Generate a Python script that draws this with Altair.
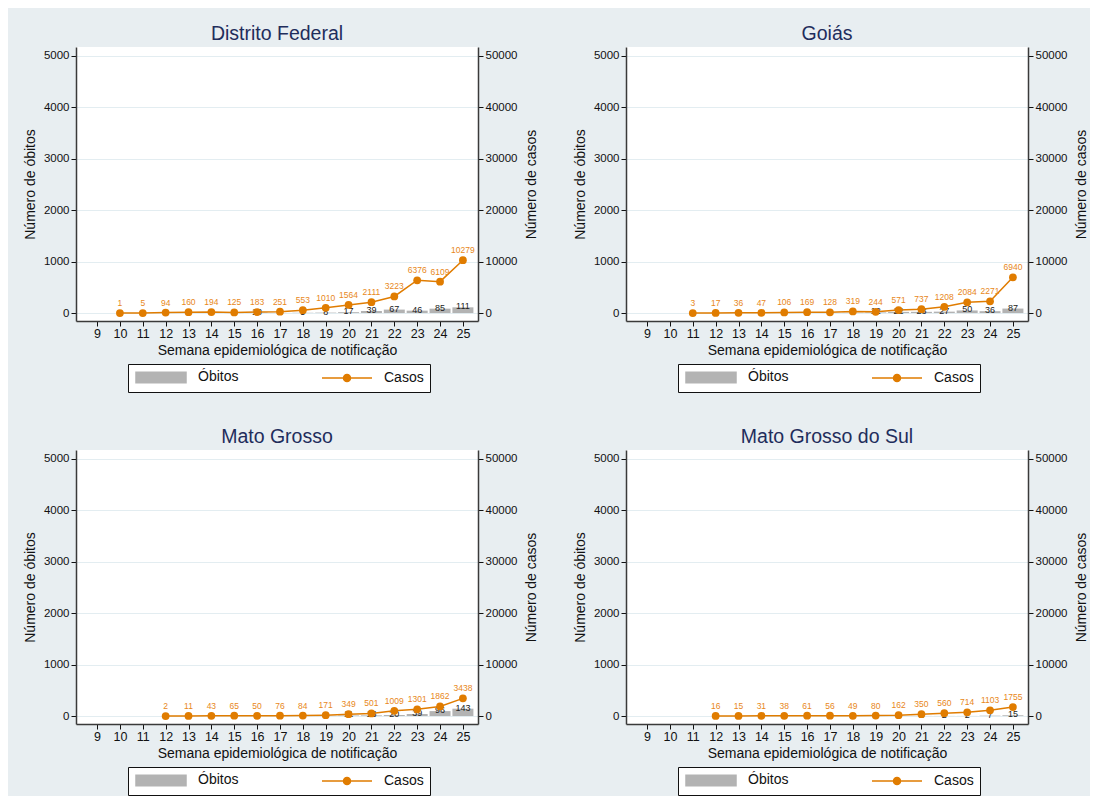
import altair as alt
import pandas as pd

# ---------------- data ----------------
ESTADOS = ["Distrito Federal", "Goiás", "Mato Grosso", "Mato Grosso do Sul"]

DF_SEM_CASOS = [10, 11, 12, 13, 14, 15, 16, 17, 18, 19, 20, 21, 22, 23, 24, 25]
DF_CASOS = [1, 5, 94, 160, 194, 125, 183, 251, 553, 1010, 1564, 2111, 3223, 6376, 6109, 10279]
DF_SEM_OBITOS = [16, 17, 18, 19, 20, 21, 22, 23, 24, 25]
DF_OBITOS = [10, 2, 5, 8, 17, 39, 67, 46, 85, 111]

GO_SEM_CASOS = [11, 12, 13, 14, 15, 16, 17, 18, 19, 20, 21, 22, 23, 24, 25]
GO_CASOS = [3, 17, 36, 47, 106, 169, 128, 319, 244, 571, 737, 1208, 2084, 2271, 6940]
GO_SEM_OBITOS = [18, 19, 20, 21, 22, 23, 24, 25]
GO_OBITOS = [6, 12, 22, 23, 27, 50, 36, 87]

MT_SEM_CASOS = [12, 13, 14, 15, 16, 17, 18, 19, 20, 21, 22, 23, 24, 25]
MT_CASOS = [2, 11, 43, 65, 50, 76, 84, 171, 349, 501, 1009, 1301, 1862, 3438]
MT_SEM_OBITOS = [19, 20, 21, 22, 23, 24, 25]
MT_OBITOS = [4, 11, 13, 20, 39, 96, 143]

MS_SEM_CASOS = [12, 13, 14, 15, 16, 17, 18, 19, 20, 21, 22, 23, 24, 25]
MS_CASOS = [16, 15, 31, 38, 61, 56, 49, 80, 162, 350, 560, 714, 1103, 1755]
MS_SEM_OBITOS = [21, 22, 23, 24, 25]
MS_OBITOS = [2, 2, 2, 7, 15]

SEMANAS_EIXO = [9, 10, 11, 12, 13, 14, 15, 16, 17, 18, 19, 20, 21, 22, 23, 24, 25]
TICKS_OBITOS = [0, 1000, 2000, 3000, 4000, 5000]
TICKS_CASOS = [0, 10000, 20000, 30000, 40000, 50000]
SERIES = ["Óbitos", "Casos"]

# ---------------- style ----------------
FONT = "Liberation Sans"
ORANGE = "#e07c00"
ORANGE_TXT = "#e8871a"
GRAY = "#b3b3b3"
BG = "#e8eef1"
GRID = "#e3edf1"
TITLE_COL = "#1f2d5c"
AXIS_COL = "#3a3a3a"

color_scale = alt.Scale(domain=SERIES, range=[GRAY, ORANGE])

RECT = "M-1,-1.05H9V1.05H-1Z"
LINEDOT = "M-1,0H9M3.3,0A0.7,0.7 0 1,1 4.7,0A0.7,0.7 0 1,1 3.3,0Z"

legend = alt.Legend(
    title=None, orient="none", legendX=52, legendY=317,
    direction="horizontal", columns=2,
    fillColor="white", strokeColor="#111", padding=6,
    symbolSize=100, symbolStrokeWidth=1.5,
    symbolType=alt.ExprRef(f"datum.value == 'Óbitos' ? '{RECT}' : '{LINEDOT}'"),
    labelFont=FONT, labelFontSize=14, labelColor="#111", labelOffset=50,
    labelBaseline="middle", columnPadding=80,
)


def panel(nome, sem_c, casos, sem_o, obitos):
    dc = pd.DataFrame({"semana": sem_c, "casos": casos, "serie": "Casos"})
    do = pd.DataFrame({"semana": sem_o, "obitos": obitos, "serie": "Óbitos"})

    x = alt.X(
        "semana:Q",
        scale=alt.Scale(domain=[8.08, 25.66], nice=False, zero=False, padding=0),
        axis=alt.Axis(
            values=SEMANAS_EIXO, format="d", title="Semana epidemiológica de notificação",
            labelFontSize=12.5, titleFontSize=14, titleFontWeight="normal",
            labelFont=FONT, titleFont=FONT, labelColor="#111", titleColor="#111",
            tickSize=5, domainColor=AXIS_COL, tickColor="#111", domainWidth=1.5,
            labelPadding=1, titlePadding=4, grid=False, labelFlush=False,
        ),
    )
    y_ob = alt.Y(
        "obitos:Q",
        scale=alt.Scale(domain=[-155, 5175], nice=False, padding=0),
        axis=alt.Axis(
            orient="left", values=TICKS_OBITOS, format="d", title="Número de óbitos",
            labelFontSize=11.5, titleFontSize=14, titleFontWeight="normal",
            labelFont=FONT, titleFont=FONT, labelColor="#111", titleColor="#111",
            tickSize=5, domainColor=AXIS_COL, tickColor="#111", domainWidth=1.5,
            labelPadding=2, titlePadding=6, grid=True, gridColor=GRID, gridWidth=1.2,
        ),
    )
    y_ca = alt.Y(
        "casos:Q",
        scale=alt.Scale(domain=[-1550, 51750], nice=False, padding=0),
        axis=alt.Axis(
            orient="right", values=TICKS_CASOS, format="d", title="Número de casos",
            titleAngle=270, titleBaseline="top",
            labelFontSize=11.5, titleFontSize=14, titleFontWeight="normal",
            labelFont=FONT, titleFont=FONT, labelColor="#111", titleColor="#111",
            tickSize=5, domainColor=AXIS_COL, tickColor="#111", domainWidth=1.5,
            labelPadding=2, titlePadding=8, grid=False,
        ),
    )
    cor = alt.Color("serie:N", scale=color_scale, legend=legend)

    bars = alt.Chart(do).mark_bar(size=21).encode(x=x, y=y_ob, color=cor)
    txt_o = alt.Chart(do).mark_text(
        font=FONT, fontSize=9, color="#222", baseline="middle", dy=-1
    ).encode(x=x, y=y_ob, text=alt.Text("obitos:Q", format="d"))
    left = alt.layer(bars, txt_o)

    line = alt.Chart(dc).mark_line(strokeWidth=1.5).encode(x=x, y=y_ca, color=cor)
    pts = alt.Chart(dc).mark_circle(size=60, opacity=1).encode(x=x, y=y_ca, color=cor)
    txt_c = alt.Chart(dc).mark_text(
        font=FONT, fontSize=8.5, color=ORANGE_TXT, baseline="bottom", dy=-5
    ).encode(x=x, y=y_ca, text=alt.Text("casos:Q", format="d"))
    right = alt.layer(line, pts, txt_c)

    return (
        alt.layer(left, right)
        .resolve_scale(y="independent")
        .properties(
            width=402, height=274,
            title=alt.TitleParams(
                text=nome, fontSize=19.5, font=FONT, fontWeight="normal",
                color=TITLE_COL, offset=3, anchor="middle",
            ),
        )
    )


p1 = panel(ESTADOS[0], DF_SEM_CASOS, DF_CASOS, DF_SEM_OBITOS, DF_OBITOS)
p2 = panel(ESTADOS[1], GO_SEM_CASOS, GO_CASOS, GO_SEM_OBITOS, GO_OBITOS)
p3 = panel(ESTADOS[2], MT_SEM_CASOS, MT_CASOS, MT_SEM_OBITOS, MT_OBITOS)
p4 = panel(ESTADOS[3], MS_SEM_CASOS, MS_CASOS, MS_SEM_OBITOS, MS_OBITOS)

chart = (
    alt.concat(p1, p2, p3, p4, columns=2, spacing={"row": 33, "column": 34})
    .resolve_legend(color="independent")
    .properties(background=BG, padding={"left": 15, "top": 15, "right": 1, "bottom": 0})
    .configure_view(fill="white", stroke=None)
)

chart.save("out.html", embed_options={"renderer": "svg", "actions": False})
